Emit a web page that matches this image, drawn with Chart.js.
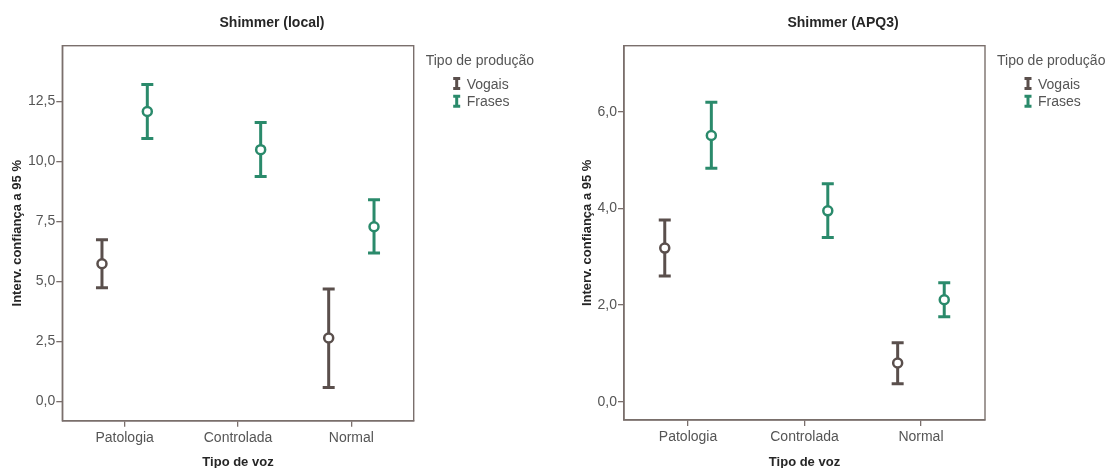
<!DOCTYPE html>
<html>
<head>
<meta charset="utf-8">
<title>Shimmer</title>
<script src="https://cdn.jsdelivr.net/npm/chart.js@4/dist/chart.umd.min.js"></script>
<style>
  html, body { margin: 0; padding: 0; background: #ffffff; }
  #wrap { position: relative; width: 1109px; height: 468px; overflow: hidden; }
  .panel { position: absolute; top: 0; height: 468px; }
  canvas { display: block; }
</style>
</head>
<body>
<div id="wrap">
  <div class="panel" style="left:0; width:555px;"><canvas id="chartLocal" width="555" height="468"></canvas></div>
  <div class="panel" style="left:555px; width:554px;"><canvas id="chartApq3" width="554" height="468"></canvas></div>
</div>
<script>
// Groups on the x axis and the two production types
const categories = ['Patologia', 'Controlada', 'Normal'];
const seriesNames = ['Vogais', 'Frases'];

// Shimmer (local): means and 95 % confidence limits (null = no data)
const localVogaisMean = [5.74, null, 2.65];
const localVogaisLow  = [4.74, null, 0.59];
const localVogaisHigh = [6.74, null, 4.69];
const localFrasesMean = [12.08, 10.49, 7.28];
const localFrasesLow  = [10.96, 9.37, 6.19];
const localFrasesHigh = [13.20, 11.62, 8.41];
const localTicks = [0, 2.5, 5, 7.5, 10, 12.5];

// Shimmer (APQ3)
const apqVogaisMean = [3.18, null, 0.80];
const apqVogaisLow  = [2.60, null, 0.37];
const apqVogaisHigh = [3.76, null, 1.22];
const apqFrasesMean = [5.51, 3.95, 2.11];
const apqFrasesLow  = [4.83, 3.40, 1.76];
const apqFrasesHigh = [6.20, 4.51, 2.46];
const apqTicks = [0, 2, 4, 6];

// Styling
const FONT = '"Liberation Sans", Arial, Helvetica, sans-serif';
const seriesColors = ['#5a4f4c', '#2a8a6b'];
const seriesOffset = [-0.2, 0.2];
const frameColor = '#7a6f6c';
const labelColor = '#555555';
const titleColor = '#262626';

const fmt = v => v.toFixed(1).replace('.', ',');

function buildDatasets(means, lows, highs) {
  const sets = [];
  seriesNames.forEach((name, s) => {
    const centres = [];
    const bars = [];
    categories.forEach((c, i) => {
      if (means[s][i] == null) return;
      const x = i + seriesOffset[s];
      centres.push({ x, y: means[s][i] });
      bars.push({ x, y: lows[s][i] }, { x, y: highs[s][i] }, { x, y: null });
    });
    sets.push({
      label: name,
      data: centres,
      order: 0,
      showLine: false,
      pointStyle: 'circle',
      pointRadius: 4.5,
      pointBorderWidth: 2.5,
      pointBackgroundColor: '#ffffff',
      pointBorderColor: seriesColors[s],
      borderColor: seriesColors[s]
    });
    sets.push({
      label: name + ' (IC 95 %)',
      data: bars,
      order: 1,
      showLine: true,
      spanGaps: false,
      borderColor: seriesColors[s],
      borderWidth: 3,
      pointStyle: 'line',
      pointRadius: 6,
      pointBorderWidth: 3,
      pointBorderColor: seriesColors[s],
      pointBackgroundColor: seriesColors[s]
    });
  });
  return sets;
}

// Box around the plotting area
const framePlugin = {
  id: 'frame',
  beforeDatasetsDraw(chart) {
    const { ctx, chartArea: a } = chart;
    ctx.save();
    ctx.strokeStyle = frameColor;
    ctx.lineWidth = 1.4;
    ctx.strokeRect(a.left, a.top, a.right - a.left, a.bottom - a.top);
    ctx.restore();
  }
};

// Chart heading and the "Tipo de produção" key
const headerPlugin = {
  id: 'header',
  afterDraw(chart, args, opts) {
    const { ctx, chartArea: a } = chart;
    ctx.save();
    ctx.fillStyle = titleColor;
    ctx.font = 'bold 14px ' + FONT;
    ctx.textAlign = 'center';
    ctx.textBaseline = 'middle';
    ctx.fillText(opts.title, opts.titleX, 23.5);

    const lx = a.right;
    ctx.textAlign = 'left';
    ctx.textBaseline = 'alphabetic';
    ctx.font = '14px ' + FONT;
    ctx.fillStyle = labelColor;
    ctx.fillText('Tipo de produção', lx + 12, 65);
    seriesNames.forEach((name, s) => {
      const cy = 83.5 + s * 17.8;
      const ix = lx + 43;
      ctx.strokeStyle = seriesColors[s];
      ctx.lineWidth = 3;
      ctx.beginPath();
      ctx.moveTo(ix, cy - 5); ctx.lineTo(ix, cy + 5);
      ctx.moveTo(ix - 3.5, cy - 5); ctx.lineTo(ix + 3.5, cy - 5);
      ctx.moveTo(ix - 3.5, cy + 5); ctx.lineTo(ix + 3.5, cy + 5);
      ctx.stroke();
      ctx.fillStyle = labelColor;
      ctx.fillText(name, lx + 53, cy + 5);
    });
    ctx.restore();
  }
};

function makeChart(id, cfg) {
  return new Chart(document.getElementById(id), {
    type: 'scatter',
    data: { datasets: buildDatasets(cfg.means, cfg.lows, cfg.highs) },
    plugins: [framePlugin, headerPlugin],
    options: {
      responsive: false,
      animation: false,
      events: [],
      layout: { padding: { left: 0, top: 45.7, right: cfg.padRight, bottom: 0 } },
      plugins: {
        legend: { display: false },
        tooltip: { enabled: false },
        title: { display: false },
        header: { title: cfg.title, titleX: cfg.titleX }
      },
      scales: {
        x: {
          type: 'linear',
          min: -0.55,
          max: 2.55,
          afterBuildTicks: s => { s.ticks = categories.map((c, i) => ({ value: i })); },
          afterFit: s => { s.height = cfg.xAxisHeight; },
          ticks: {
            callback: v => categories[v],
            font: { family: FONT, size: 14 },
            color: labelColor,
            padding: 3,
            maxRotation: 0,
            autoSkip: false
          },
          grid: { display: true, drawOnChartArea: false, drawTicks: true, tickLength: 6, color: frameColor, lineWidth: 1.3 },
          border: { display: true, color: frameColor, width: 1.4 },
          title: {
            display: true,
            text: 'Tipo de voz',
            font: { family: FONT, size: 13, weight: 'bold', lineHeight: 0.9 },
            color: titleColor,
            padding: { top: 0, bottom: 0 }
          }
        },
        y: {
          type: 'linear',
          min: cfg.yMin,
          max: cfg.yMax,
          afterBuildTicks: s => { s.ticks = cfg.yTicks.map(v => ({ value: v })); },
          afterFit: s => { s.width = cfg.yAxisWidth; },
          ticks: {
            callback: v => fmt(v),
            font: { family: FONT, size: 14 },
            color: labelColor,
            padding: 1
          },
          grid: { display: true, drawOnChartArea: false, drawTicks: true, tickLength: 6, color: frameColor, lineWidth: 1.3 },
          border: { display: true, color: frameColor, width: 1.4 },
          title: {
            display: true,
            text: 'Interv. confiança a 95 %',
            font: { family: FONT, size: 13, weight: 'bold', lineHeight: 1.2 },
            color: titleColor,
            padding: { top: cfg.yTitlePad, bottom: 0 }
          }
        }
      }
    }
  });
}

makeChart('chartLocal', {
  title: 'Shimmer (local)', titleX: 272,
  means: [localVogaisMean, localFrasesMean],
  lows: [localVogaisLow, localFrasesLow],
  highs: [localVogaisHigh, localFrasesHigh],
  yTicks: localTicks, yMin: -0.80, yMax: 14.82,
  yAxisWidth: 62.3, xAxisHeight: 47.2, padRight: 141.3, yTitlePad: 10
});

makeChart('chartApq3', {
  title: 'Shimmer (APQ3)', titleX: 288,
  means: [apqVogaisMean, apqFrasesMean],
  lows: [apqVogaisLow, apqFrasesLow],
  highs: [apqVogaisHigh, apqFrasesHigh],
  yTicks: apqTicks, yMin: -0.38, yMax: 7.37,
  yAxisWidth: 69, xAxisHeight: 48, padRight: 124, yTitlePad: 25
});
</script>
</body>
</html>
